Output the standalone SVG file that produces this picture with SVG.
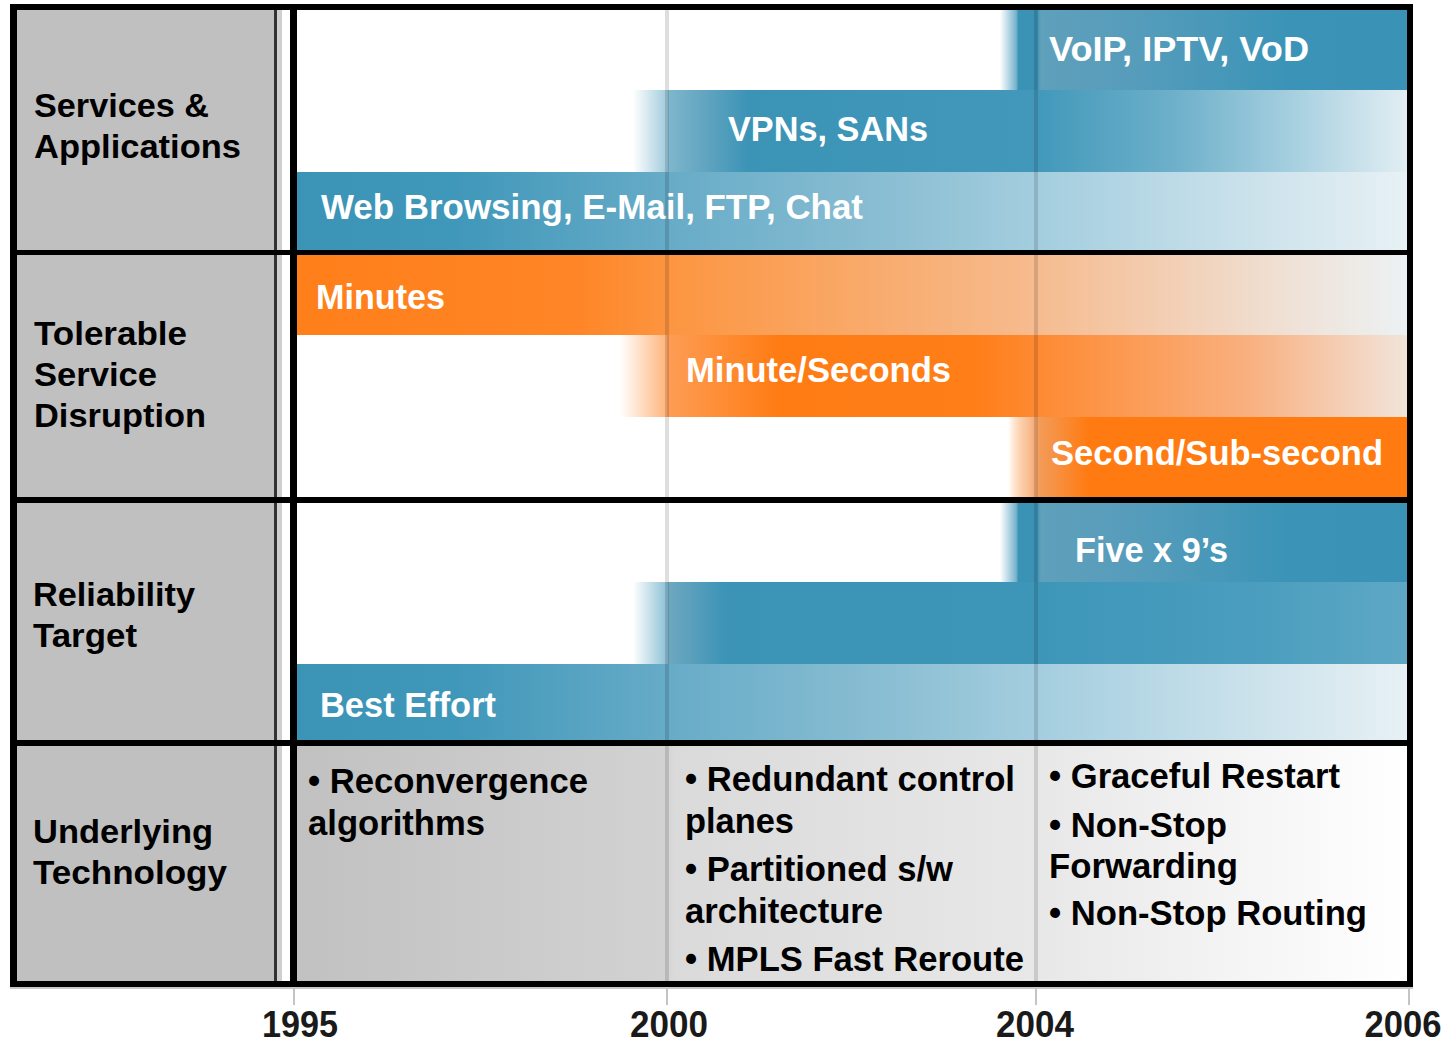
<svg xmlns="http://www.w3.org/2000/svg" width="1455" height="1046" viewBox="0 0 1455 1046">
  <defs>
    <style>
      .lbl { font-family: "Liberation Sans", Arial, sans-serif; font-weight: bold; font-size: 34px; fill: #000; }
      .bar { font-family: "Liberation Sans", Arial, sans-serif; font-weight: bold; font-size: 35px; fill: #fff; }
      .tech { font-family: "Liberation Sans", Arial, sans-serif; font-weight: bold; font-size: 35px; fill: #000; }
      .year { font-family: "Liberation Sans Narrow", "Liberation Sans", Arial, sans-serif; font-weight: bold; font-size: 36px; fill: #1a1a1a; text-anchor: middle; }
      .frame { fill: #000; }
      .grid { fill: #000; fill-opacity: 0.13; }
      .tick { fill: #c4c4c4; }
    </style>

    <!-- long bars starting at 1995 and fading out toward 2006 -->
    <linearGradient id="tealLong" gradientUnits="userSpaceOnUse" x1="297" y1="0" x2="1407" y2="0">
      <stop offset="0" stop-color="#3b93b6"/>
      <stop offset="0.14" stop-color="#3f97b9"/>
      <stop offset="0.33" stop-color="#66abc7"/>
      <stop offset="0.55" stop-color="#8ec0d4"/>
      <stop offset="0.67" stop-color="#a4cedf"/>
      <stop offset="0.9" stop-color="#d3e6ee"/>
      <stop offset="1" stop-color="#e7f1f5"/>
    </linearGradient>
    <linearGradient id="orangeLong" gradientUnits="userSpaceOnUse" x1="297" y1="0" x2="1407" y2="0">
      <stop offset="0" stop-color="#ff7f1a"/>
      <stop offset="0.25" stop-color="#ff8526"/>
      <stop offset="0.34" stop-color="#fc9642"/>
      <stop offset="0.67" stop-color="#f6bc90"/>
      <stop offset="0.9" stop-color="#efe2d8"/>
      <stop offset="1" stop-color="#ecf1f3"/>
    </linearGradient>

    <!-- mid bars starting near 2000 -->
    <linearGradient id="tealMid" gradientUnits="userSpaceOnUse" x1="633" y1="0" x2="1407" y2="0">
      <stop offset="0" stop-color="#3d95b8" stop-opacity="0"/>
      <stop offset="0.045" stop-color="#3d95b8" stop-opacity="0.5"/>
      <stop offset="0.045" stop-color="#7fb7cd"/>
      <stop offset="0.08" stop-color="#6aa9c3"/>
      <stop offset="0.15" stop-color="#3b93b6"/>
      <stop offset="0.52" stop-color="#4198ba"/>
      <stop offset="0.7" stop-color="#6eb0ca"/>
      <stop offset="0.85" stop-color="#a5cfdf"/>
      <stop offset="1" stop-color="#e2eef3"/>
    </linearGradient>
    <linearGradient id="tealMidDark" gradientUnits="userSpaceOnUse" x1="633" y1="0" x2="1407" y2="0">
      <stop offset="0" stop-color="#3d95b8" stop-opacity="0"/>
      <stop offset="0.045" stop-color="#3d95b8" stop-opacity="0.6"/>
      <stop offset="0.045" stop-color="#6fa8c0"/>
      <stop offset="0.12" stop-color="#3b93b6"/>
      <stop offset="0.52" stop-color="#3d96b8"/>
      <stop offset="0.8" stop-color="#4a9dbe"/>
      <stop offset="1" stop-color="#5ea8c5"/>
    </linearGradient>
    <linearGradient id="orangeMid" gradientUnits="userSpaceOnUse" x1="620" y1="0" x2="1407" y2="0">
      <stop offset="0" stop-color="#ff8122" stop-opacity="0"/>
      <stop offset="0.06" stop-color="#ff8122" stop-opacity="0.6"/>
      <stop offset="0.06" stop-color="#fd9d55"/>
      <stop offset="0.2" stop-color="#ff7c14"/>
      <stop offset="0.45" stop-color="#ff7e18"/>
      <stop offset="0.53" stop-color="#fe8a32"/>
      <stop offset="0.8" stop-color="#f9b080"/>
      <stop offset="1" stop-color="#f1e4da"/>
    </linearGradient>

    <!-- short bars starting near 2004 -->
    <linearGradient id="tealShort" gradientUnits="userSpaceOnUse" x1="1000" y1="0" x2="1407" y2="0">
      <stop offset="0" stop-color="#3a92b5" stop-opacity="0"/>
      <stop offset="0.04" stop-color="#3a92b5" stop-opacity="0.7"/>
      <stop offset="0.045" stop-color="#3a92b5"/>
      <stop offset="0.09" stop-color="#3a92b5"/>
      <stop offset="0.1" stop-color="#5fa0bb"/>
      <stop offset="0.35" stop-color="#559cbb"/>
      <stop offset="0.7" stop-color="#3b94b7"/>
      <stop offset="1" stop-color="#3a93b6"/>
    </linearGradient>
    <linearGradient id="orangeShort" gradientUnits="userSpaceOnUse" x1="1008" y1="0" x2="1407" y2="0">
      <stop offset="0" stop-color="#ff7b12" stop-opacity="0"/>
      <stop offset="0.05" stop-color="#f6a56a" stop-opacity="0.7"/>
      <stop offset="0.08" stop-color="#f39b58"/>
      <stop offset="0.2" stop-color="#ff7b12"/>
      <stop offset="1" stop-color="#ff7b12"/>
    </linearGradient>

    <linearGradient id="techBg" gradientUnits="userSpaceOnUse" x1="297" y1="0" x2="1407" y2="0">
      <stop offset="0" stop-color="#c1c1c1"/>
      <stop offset="0.33" stop-color="#d2d2d2"/>
      <stop offset="0.34" stop-color="#dadada"/>
      <stop offset="0.67" stop-color="#e8e8e8"/>
      <stop offset="1" stop-color="#ffffff"/>
    </linearGradient>
  </defs>

  <rect x="0" y="0" width="1455" height="1046" fill="#fff"/>

  <!-- label column -->
  <rect x="17" y="10" width="258" height="971" fill="#c0c0c0"/>
  <rect x="274" y="10" width="3" height="971" fill="#333"/>
  <rect x="277" y="10" width="5" height="971" fill="#cfcfcf"/>

  <!-- row 4 background -->
  <rect x="297" y="746" width="1110" height="235" fill="url(#techBg)"/>

  <!-- Services & Applications -->
  <g id="row-services">
    <rect x="1000" y="10" width="407" height="80" fill="url(#tealShort)"/>
    <rect x="633" y="90" width="774" height="82" fill="url(#tealMid)"/>
    <rect x="297" y="172" width="1110" height="78" fill="url(#tealLong)"/>
    <text class="bar" x="1049" y="61" textLength="260" lengthAdjust="spacingAndGlyphs">VoIP, IPTV, VoD</text>
    <text class="bar" x="728" y="141" textLength="200" lengthAdjust="spacingAndGlyphs">VPNs, SANs</text>
    <text class="bar" x="321" y="219" textLength="542" lengthAdjust="spacingAndGlyphs">Web Browsing, E-Mail, FTP, Chat</text>
  </g>

  <!-- Tolerable Service Disruption -->
  <g id="row-disruption">
    <rect x="297" y="255" width="1110" height="80" fill="url(#orangeLong)"/>
    <rect x="620" y="335" width="787" height="82" fill="url(#orangeMid)"/>
    <rect x="1008" y="417" width="399" height="80" fill="url(#orangeShort)"/>
    <text class="bar" x="316" y="309" textLength="129" lengthAdjust="spacingAndGlyphs">Minutes</text>
    <text class="bar" x="686" y="382" textLength="265" lengthAdjust="spacingAndGlyphs">Minute/Seconds</text>
    <text class="bar" x="1051" y="465" textLength="332" lengthAdjust="spacingAndGlyphs">Second/Sub-second</text>
  </g>

  <!-- Reliability Target -->
  <g id="row-reliability">
    <rect x="1000" y="503" width="407" height="79" fill="url(#tealShort)"/>
    <rect x="633" y="582" width="774" height="82" fill="url(#tealMidDark)"/>
    <rect x="297" y="664" width="1110" height="76" fill="url(#tealLong)"/>
    <text class="bar" x="1075" y="562" textLength="153" lengthAdjust="spacingAndGlyphs">Five x 9’s</text>
    <text class="bar" x="320" y="717" textLength="176" lengthAdjust="spacingAndGlyphs">Best Effort</text>
  </g>

  <!-- year gridlines across the chart -->
  <g id="gridlines">
    <rect class="grid" x="665" y="10" width="4" height="971"/>
    <rect class="grid" x="1034" y="10" width="4" height="971"/>
  </g>

  <!-- Underlying Technology -->
  <g id="row-technology">
    <text class="tech" x="308" y="793" textLength="280" lengthAdjust="spacingAndGlyphs">• Reconvergence</text>
    <text class="tech" x="308" y="835" textLength="177" lengthAdjust="spacingAndGlyphs">algorithms</text>
    <text class="tech" x="685" y="791" textLength="330" lengthAdjust="spacingAndGlyphs">• Redundant control</text>
    <text class="tech" x="685" y="833" textLength="109" lengthAdjust="spacingAndGlyphs">planes</text>
    <text class="tech" x="685" y="881" textLength="268" lengthAdjust="spacingAndGlyphs">• Partitioned s/w</text>
    <text class="tech" x="685" y="923" textLength="198" lengthAdjust="spacingAndGlyphs">architecture</text>
    <text class="tech" x="685" y="971" textLength="339" lengthAdjust="spacingAndGlyphs">• MPLS Fast Reroute</text>
    <text class="tech" x="1049" y="788" textLength="291" lengthAdjust="spacingAndGlyphs">• Graceful Restart</text>
    <text class="tech" x="1049" y="837" textLength="178" lengthAdjust="spacingAndGlyphs">• Non-Stop</text>
    <text class="tech" x="1049" y="878" textLength="189" lengthAdjust="spacingAndGlyphs">Forwarding</text>
    <text class="tech" x="1049" y="925" textLength="318" lengthAdjust="spacingAndGlyphs">• Non-Stop Routing</text>
  </g>

  <!-- row labels -->
  <g id="labels">
    <text class="lbl" x="34" y="117" textLength="175" lengthAdjust="spacingAndGlyphs">Services &amp;</text>
    <text class="lbl" x="34" y="158" textLength="207" lengthAdjust="spacingAndGlyphs">Applications</text>
    <text class="lbl" x="34" y="345" textLength="153" lengthAdjust="spacingAndGlyphs">Tolerable</text>
    <text class="lbl" x="34" y="386" textLength="123" lengthAdjust="spacingAndGlyphs">Service</text>
    <text class="lbl" x="34" y="427" textLength="172" lengthAdjust="spacingAndGlyphs">Disruption</text>
    <text class="lbl" x="33" y="606" textLength="162" lengthAdjust="spacingAndGlyphs">Reliability</text>
    <text class="lbl" x="33" y="647" textLength="104" lengthAdjust="spacingAndGlyphs">Target</text>
    <text class="lbl" x="33" y="843" textLength="180" lengthAdjust="spacingAndGlyphs">Underlying</text>
    <text class="lbl" x="33" y="884" textLength="194" lengthAdjust="spacingAndGlyphs">Technology</text>
  </g>

  <!-- table frame -->
  <g id="frame">
    <rect class="frame" x="10" y="4" width="1403" height="6"/>
    <rect class="frame" x="10" y="4" width="7" height="983"/>
    <rect class="frame" x="1407" y="4" width="6" height="983"/>
    <rect class="frame" x="10" y="981" width="1403" height="6"/>
    <rect class="frame" x="290" y="4" width="7" height="983"/>
    <rect class="frame" x="10" y="250" width="1403" height="5"/>
    <rect class="frame" x="10" y="497" width="1403" height="6"/>
    <rect class="frame" x="10" y="740" width="1403" height="6"/>
    <rect x="10" y="987" width="1403" height="2" fill="#c8c8c8"/>
  </g>

  <!-- time axis -->
  <g id="axis">
    <rect class="tick" x="293" y="989" width="2" height="16"/>
    <rect class="tick" x="666" y="989" width="2" height="16"/>
    <rect class="tick" x="1035" y="989" width="2" height="16"/>
    <rect class="tick" x="1408" y="989" width="2" height="16"/>
    <text class="year" x="300" y="1037" textLength="76" lengthAdjust="spacingAndGlyphs">1995</text>
    <text class="year" x="669" y="1037" textLength="78" lengthAdjust="spacingAndGlyphs">2000</text>
    <text class="year" x="1035" y="1037" textLength="78" lengthAdjust="spacingAndGlyphs">2004</text>
    <text class="year" x="1403" y="1037" textLength="77" lengthAdjust="spacingAndGlyphs">2006</text>
  </g>
</svg>
